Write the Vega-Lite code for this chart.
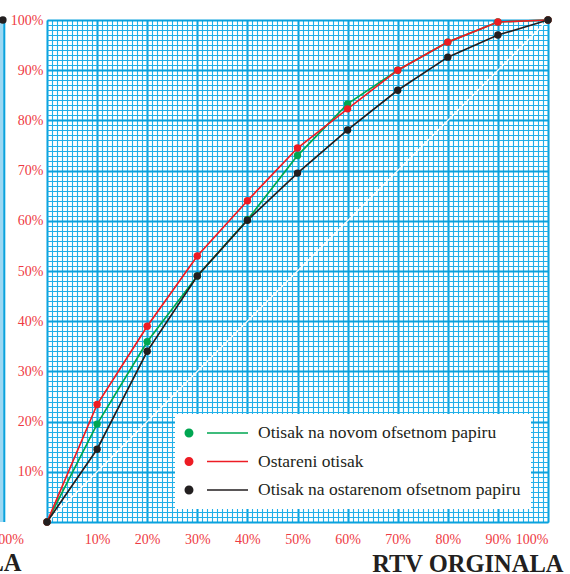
{
  "$schema": "https://vega.github.io/schema/vega-lite/v6.json",
  "width": 501,
  "height": 502,
  "autosize": "none",
  "padding": {"left": 47, "top": 20, "right": 22, "bottom": 52},
  "background": "white",
  "config": {"view": {"stroke": null}, "axis": {"labelFont": "Liberation Serif", "titleFont": "Liberation Serif"}, "legend": {"labelFont": "Liberation Serif"}},
  "datasets": {
    "curves": [
      {"s": "Otisak na novom ofsetnom papiru", "x": 0, "y": 0},
      {"s": "Otisak na novom ofsetnom papiru", "x": 10, "y": 19.5},
      {"s": "Otisak na novom ofsetnom papiru", "x": 20, "y": 35.9},
      {"s": "Otisak na novom ofsetnom papiru", "x": 30, "y": 49},
      {"s": "Otisak na novom ofsetnom papiru", "x": 40, "y": 60.2},
      {"s": "Otisak na novom ofsetnom papiru", "x": 50, "y": 73},
      {"s": "Otisak na novom ofsetnom papiru", "x": 60, "y": 83.3},
      {"s": "Otisak na novom ofsetnom papiru", "x": 70, "y": 90},
      {"s": "Otisak na novom ofsetnom papiru", "x": 80, "y": 95.6},
      {"s": "Otisak na novom ofsetnom papiru", "x": 90, "y": 99.6},
      {"s": "Otisak na novom ofsetnom papiru", "x": 100, "y": 100},
      {"s": "Ostareni otisak", "x": 0, "y": 0},
      {"s": "Ostareni otisak", "x": 10, "y": 23.4},
      {"s": "Ostareni otisak", "x": 20, "y": 39},
      {"s": "Ostareni otisak", "x": 30, "y": 53},
      {"s": "Ostareni otisak", "x": 40, "y": 64},
      {"s": "Ostareni otisak", "x": 50, "y": 74.5},
      {"s": "Ostareni otisak", "x": 60, "y": 82.3},
      {"s": "Ostareni otisak", "x": 70, "y": 90},
      {"s": "Ostareni otisak", "x": 80, "y": 95.6},
      {"s": "Ostareni otisak", "x": 90, "y": 99.6},
      {"s": "Ostareni otisak", "x": 100, "y": 100},
      {"s": "Otisak na ostarenom ofsetnom papiru", "x": 0, "y": 0},
      {"s": "Otisak na ostarenom ofsetnom papiru", "x": 10, "y": 14.5},
      {"s": "Otisak na ostarenom ofsetnom papiru", "x": 20, "y": 34},
      {"s": "Otisak na ostarenom ofsetnom papiru", "x": 30, "y": 49},
      {"s": "Otisak na ostarenom ofsetnom papiru", "x": 40, "y": 60.1},
      {"s": "Otisak na ostarenom ofsetnom papiru", "x": 50, "y": 69.5},
      {"s": "Otisak na ostarenom ofsetnom papiru", "x": 60, "y": 78.1},
      {"s": "Otisak na ostarenom ofsetnom papiru", "x": 70, "y": 86},
      {"s": "Otisak na ostarenom ofsetnom papiru", "x": 80, "y": 92.6},
      {"s": "Otisak na ostarenom ofsetnom papiru", "x": 90, "y": 97},
      {"s": "Otisak na ostarenom ofsetnom papiru", "x": 100, "y": 100}
    ],
    "diag": [{"x": 0, "y": 0}, {"x": 100, "y": 100}],
    "strip": [{"x": -9.4, "x2": -8.52, "y": 0, "y2": 100}],
    "stripdot": [{"x": -8.8, "y": 100}],
    "edgelabel": [{"x": -4.6, "y": -3.6, "t": "100%"}],
    "edgetitle": [{"x": -5.1, "y": -9.8, "t": "LA"}]
  },
  "layer": [
    {
      "data": {"name": "diag"},
      "mark": {"type": "line", "color": "white", "strokeWidth": 1.3},
      "encoding": {
        "x": {"field": "x", "type": "quantitative",
          "scale": {"domain": [0, 100], "nice": false, "zero": false},
          "axis": {"orient": "top", "values": [0,1,2,3,4,5,6,7,8,9,10,11,12,13,14,15,16,17,18,19,20,21,22,23,24,25,26,27,28,29,30,31,32,33,34,35,36,37,38,39,40,41,42,43,44,45,46,47,48,49,50,51,52,53,54,55,56,57,58,59,60,61,62,63,64,65,66,67,68,69,70,71,72,73,74,75,76,77,78,79,80,81,82,83,84,85,86,87,88,89,90,91,92,93,94,95,96,97,98,99,100],
            "grid": true, "gridColor": "#22b0e8", "gridWidth": 1.1, "gridOpacity": 1,
            "labels": false, "ticks": false, "domain": false, "title": null}},
        "y": {"field": "y", "type": "quantitative",
          "scale": {"domain": [0, 100], "nice": false, "zero": false},
          "axis": {"orient": "right", "values": [0,1,2,3,4,5,6,7,8,9,10,11,12,13,14,15,16,17,18,19,20,21,22,23,24,25,26,27,28,29,30,31,32,33,34,35,36,37,38,39,40,41,42,43,44,45,46,47,48,49,50,51,52,53,54,55,56,57,58,59,60,61,62,63,64,65,66,67,68,69,70,71,72,73,74,75,76,77,78,79,80,81,82,83,84,85,86,87,88,89,90,91,92,93,94,95,96,97,98,99,100],
            "grid": true, "gridColor": "#22b0e8", "gridWidth": 1.1, "gridOpacity": 1,
            "labels": false, "ticks": false, "domain": false, "title": null}}
      }
    },
    {
      "data": {"name": "curves"},
      "mark": {"type": "line", "strokeWidth": 1.7},
      "encoding": {
        "x": {"field": "x", "type": "quantitative",
          "axis": {"orient": "bottom", "values": [0,10,20,30,40,50,60,70,80,90,100],
            "labelExpr": "datum.value == 0 ? '' : datum.value + '%'",
            "grid": true, "gridColor": "#0aa2dd", "gridWidth": 2, "gridOpacity": 1,
            "ticks": false, "domain": false,
            "labelFont": "Liberation Serif", "labelFontSize": 14, "labelColor": "#ee3a43",
            "labelPadding": 10, "labelDx": 3,
            "title": "RTV ORGINALA", "titleFont": "Liberation Serif", "titleFontSize": 24.5,
            "titleFontWeight": "bold", "titleColor": "#231f20",
            "titleAnchor": "end", "titleAlign": "right", "titleX": 516, "titleY": 49,
            "titleBaseline": "alphabetic"}},
        "y": {"field": "y", "type": "quantitative",
          "axis": {"orient": "left", "values": [0,10,20,30,40,50,60,70,80,90,100],
            "labelExpr": "datum.value == 0 ? '' : datum.value + '%'",
            "grid": true, "gridColor": "#0aa2dd", "gridWidth": 2, "gridOpacity": 1,
            "ticks": false, "domain": false,
            "labelFont": "Liberation Serif", "labelFontSize": 14, "labelColor": "#ee3a43",
            "labelPadding": 4, "title": null}},
        "color": {"field": "s", "type": "nominal",
          "scale": {"domain": ["Otisak na novom ofsetnom papiru", "Ostareni otisak", "Otisak na ostarenom ofsetnom papiru"],
                    "range": ["#00a651", "#ed1c24", "#231f20"]},
          "legend": {"orient": "none", "legendX": 128, "legendY": 394, "title": null,
            "fillColor": "white", "padding": 10, "rowPadding": 10.5,
            "symbolType": "M -1.056 0 A 0.5 0.5 0 1 1 -0.056 0 A 0.5 0.5 0 1 1 -1.056 0 Z M 1.444 -0.09 L 6 -0.09 L 6 0.09 L 1.444 0.09 Z",
            "symbolSize": 324, "symbolStrokeWidth": 0, "labelOffset": 55, "labelLimit": 0,
            "labelFont": "Liberation Serif", "labelFontSize": 17.5, "labelColor": "#231f20",
            "encode": {"symbols": {"update": {"fill": {"scale": "color", "field": "value"}, "stroke": {"value": "transparent"}, "opacity": {"value": 1}, "fillOpacity": {"value": 1}}}}}}
      }
    },
    {
      "data": {"name": "curves"},
      "mark": {"type": "point", "filled": true, "size": 55, "opacity": 1},
      "encoding": {
        "x": {"field": "x", "type": "quantitative", "axis": null},
        "y": {"field": "y", "type": "quantitative", "axis": null},
        "color": {"field": "s", "type": "nominal"}
      }
    },
    {
      "data": {"name": "strip"},
      "mark": {"type": "rect", "fill": "#9bd8f3", "clip": false},
      "encoding": {
        "x": {"field": "x", "type": "quantitative", "axis": null},
        "x2": {"field": "x2"},
        "y": {"field": "y", "type": "quantitative", "axis": null},
        "y2": {"field": "y2"}
      }
    },
    {
      "data": {"name": "strip"},
      "mark": {"type": "rule", "color": "#0aa2dd", "strokeWidth": 2},
      "encoding": {
        "x": {"field": "x2", "type": "quantitative", "axis": null},
        "y": {"field": "y", "type": "quantitative", "axis": null},
        "y2": {"field": "y2"}
      }
    },
    {
      "data": {"name": "stripdot"},
      "mark": {"type": "point", "filled": true, "size": 55, "color": "#231f20", "opacity": 1},
      "encoding": {
        "x": {"field": "x", "type": "quantitative", "axis": null},
        "y": {"field": "y", "type": "quantitative", "axis": null}
      }
    },
    {
      "data": {"name": "edgelabel"},
      "mark": {"type": "text", "align": "right", "baseline": "middle", "font": "Liberation Serif", "fontSize": 14, "color": "#ee3a43"},
      "encoding": {
        "x": {"field": "x", "type": "quantitative", "axis": null},
        "y": {"field": "y", "type": "quantitative", "axis": null},
        "text": {"field": "t"}
      }
    },
    {
      "data": {"name": "edgetitle"},
      "mark": {"type": "text", "align": "right", "baseline": "alphabetic", "font": "Liberation Serif", "fontSize": 24.5, "fontWeight": "bold", "color": "#231f20"},
      "encoding": {
        "x": {"field": "x", "type": "quantitative", "axis": null},
        "y": {"field": "y", "type": "quantitative", "axis": null},
        "text": {"field": "t"}
      }
    }
  ],
  "resolve": {"axis": {"x": "independent", "y": "independent"}}
}
